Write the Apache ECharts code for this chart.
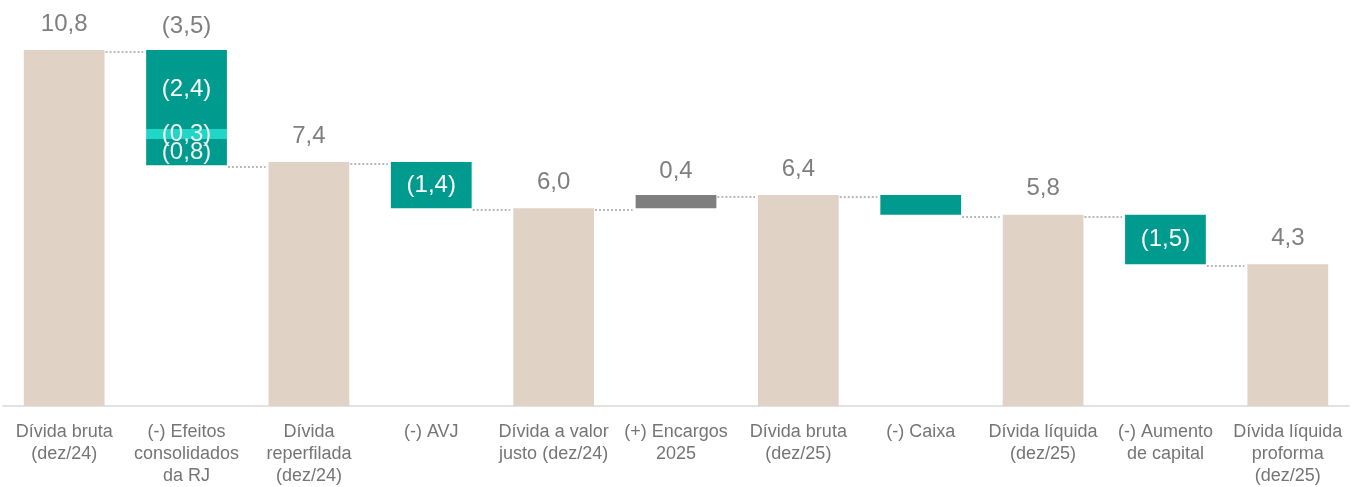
<!DOCTYPE html>
<html>
<head>
<meta charset="utf-8">
<script src="https://cdn.jsdelivr.net/npm/echarts@6/dist/echarts.min.js"></script>
<style>
    html, body { margin: 0; padding: 0; background: #fff; }
    #chart { width: 1357px; height: 487px; }
</style>
</head>
<body>
<div id="chart"></div>
<script>
// 类别
const categories = [
    'Dívida bruta\n(dez/24)',
    '(-) Efeitos\nconsolidados\nda RJ',
    'Dívida\nreperfilada\n(dez/24)',
    '(-) AVJ',
    'Dívida a valor\njusto (dez/24)',
    '(+) Encargos\n2025',
    'Dívida bruta\n(dez/25)',
    '(-) Caixa',
    'Dívida líquida\n(dez/25)',
    '(-) Aumento\nde capital',
    'Dívida líquida\nproforma\n(dez/25)'
];

// 总额柱 (null = 变动柱)
const totals = [10.8, null, 7.4, null, 6.0, null, 6.4, null, 5.8, null, 4.3];
// 变动值
const deltas = [null, -3.5, null, -1.4, null, 0.4, null, -0.6, null, -1.5, null];
// 效果拆分 (自下而上)
const splitIndex = 1;
const splitParts = [0.8, 0.3, 2.4];

const fmt = v => Math.abs(v).toFixed(1).replace('.', ',');
const fmtDelta = v => v < 0 ? '(' + fmt(v) + ')' : fmt(v);

const barRatio = 0.66;
const textFont = 'Liberation Sans';

// 计算基线和累计值
const bases = [];
const running = [];
const tops = [];
let level = 0;
totals.forEach((t, i) => {
    if (t !== null) {
        bases.push(0);
        level = t;
        tops.push(t);
    } else {
        const d = deltas[i];
        bases.push(Math.min(level, level + d));
        tops.push(Math.max(level, level + d));
        level += d;
    }
    running.push(level);
});

// 各分段
const tealMain = [], lightMid = [], tealTop = [], greyUp = [], topLabels = [];
deltas.forEach((d, i) => {
    const empty = '-';
    if (d === null) {
        tealMain.push(empty); lightMid.push(empty); tealTop.push(empty); greyUp.push(empty); topLabels.push(empty);
        return;
    }
    if (i === splitIndex) {
        tealMain.push({ value: splitParts[0], label: { show: true, formatter: '(' + fmt(splitParts[0]) + ')', color: '#f0f0f0' } });
        lightMid.push({ value: splitParts[1], label: { show: true, formatter: '(' + fmt(splitParts[1]) + ')', color: '#f0f0f0' } });
        tealTop.push({ value: splitParts[2], label: { show: true, formatter: '(' + fmt(splitParts[2]) + ')' } });
        greyUp.push(empty);
        topLabels.push({ value: tops[i], label: { formatter: fmtDelta(d) } });
    } else if (d < 0) {
        tealMain.push({ value: -d, label: { show: Math.abs(d) >= 1, formatter: fmtDelta(d) } });
        lightMid.push(empty); tealTop.push(empty); greyUp.push(empty);
        topLabels.push(empty);
    } else {
        greyUp.push(d);
        tealMain.push(empty); lightMid.push(empty); tealTop.push(empty);
        topLabels.push({ value: tops[i], label: { formatter: fmtDelta(d) } });
    }
});

// 连接线
const connectors = [];
for (let i = 0; i < categories.length - 1; i++) {
    connectors.push([i, running[i]]);
}

const insideLabel = {
    show: true,
    position: 'inside',
    color: '#ffffff',
    fontSize: 24,
    fontFamily: textFont
};

const barCommon = {
    type: 'bar',
    stack: 'wf',
    barWidth: (barRatio * 100) + '%',
    silent: true
};

const chart = echarts.init(document.getElementById('chart'));

chart.setOption({
    animation: false,
    backgroundColor: '#ffffff',
    grid: { left: 3, right: 8, top: 50, bottom: 77, containLabel: false },
    xAxis: {
        type: 'category',
        data: categories,
        axisLine: { lineStyle: { color: '#d9d9d9', width: 1.5 } },
        axisTick: { show: false },
        axisLabel: {
            interval: 0,
            color: '#757575',
            fontSize: 18,
            lineHeight: 22,
            margin: 15,
            fontFamily: textFont
        }
    },
    yAxis: {
        type: 'value',
        min: 0,
        max: 10.8,
        show: false,
        splitLine: { show: false }
    },
    series: [
        Object.assign({}, barCommon, {
            name: 'base',
            data: bases,
            itemStyle: { color: 'transparent' }
        }),
        Object.assign({}, barCommon, {
            name: 'total',
            data: totals.map(v => v === null ? '-' : v),
            itemStyle: { color: '#e0d3c5' },
            label: {
                show: true,
                position: 'top',
                distance: 14,
                color: '#7f7f7f',
                fontSize: 24,
                fontFamily: textFont,
                formatter: p => fmt(p.value)
            }
        }),
        Object.assign({}, barCommon, {
            name: 'tealMain',
            data: tealMain,
            itemStyle: { color: '#009b8f' },
            label: insideLabel
        }),
        Object.assign({}, barCommon, {
            name: 'lightMid',
            data: lightMid,
            itemStyle: { color: '#1fd6c7' },
            label: insideLabel
        }),
        Object.assign({}, barCommon, {
            name: 'tealTop',
            data: tealTop,
            itemStyle: { color: '#009b8f' },
            label: insideLabel
        }),
        Object.assign({}, barCommon, {
            name: 'greyUp',
            data: greyUp,
            itemStyle: { color: '#7f7f7f' }
        }),
        {
            // 变动柱上方标签
            type: 'scatter',
            data: topLabels,
            symbol: 'rect',
            symbolSize: 1,
            silent: true,
            itemStyle: { color: 'transparent', opacity: 1 },
            label: {
                show: true,
                position: 'top',
                distance: 11,
                color: '#7f7f7f',
                opacity: 1,
                fontSize: 24,
                fontFamily: textFont
            }
        },
        {
            // 虚线连接
            type: 'custom',
            silent: true,
            z: 1,
            data: connectors,
            encode: { x: 0, y: 1 },
            renderItem: (params, api) => {
                const p = api.coord([api.value(0), api.value(1)]);
                const band = api.size([1, 0])[0];
                const half = band * barRatio / 2;
                return {
                    type: 'line',
                    shape: {
                        x1: p[0] + half + 1,
                        y1: Math.round(p[1]) + 2,
                        x2: p[0] + band - half - 3,
                        y2: Math.round(p[1]) + 2
                    },
                    style: {
                        stroke: '#b8b8b8',
                        lineWidth: 2,
                        lineDash: [2, 2]
                    }
                };
            }
        }
    ]
});
</script>
</body>
</html>
